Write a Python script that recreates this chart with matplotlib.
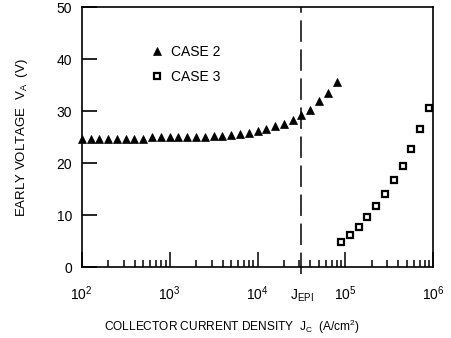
import matplotlib
matplotlib.use("Agg")
import matplotlib.pyplot as plt

plt.rcParams['font.family'] = ['Liberation Sans', 'DejaVu Sans']
plt.rcParams['mathtext.fontset'] = 'custom'
plt.rcParams['mathtext.rm'] = 'Liberation Sans'
plt.rcParams['mathtext.it'] = 'Liberation Sans'
plt.rcParams['mathtext.bf'] = 'Liberation Sans:bold'

# ---- data ----
case2_jc = [1.00e2, 1.26e2, 1.58e2, 2.00e2, 2.51e2, 3.16e2, 3.98e2, 5.01e2, 6.31e2, 7.94e2,
            1.00e3, 1.26e3, 1.58e3, 2.00e3, 2.51e3, 3.16e3, 3.98e3, 5.01e3, 6.31e3, 7.94e3,
            1.00e4, 1.26e4, 1.58e4, 2.00e4, 2.51e4, 3.16e4, 3.98e4, 5.01e4, 6.31e4, 7.94e4]
case2_va = [24.7, 24.7, 24.7, 24.7, 24.7, 24.7, 24.7, 24.7, 25.0, 25.0,
            25.0, 25.0, 25.0, 25.1, 25.1, 25.2, 25.3, 25.35, 25.6, 25.85,
            26.2, 26.65, 27.1, 27.6, 28.4, 29.3, 30.3, 31.9, 33.5, 35.6]
case3_jc = [8.9e4, 1.12e5, 1.41e5, 1.78e5, 2.24e5, 2.82e5, 3.55e5, 4.47e5, 5.62e5, 7.08e5, 8.91e5]
case3_va = [4.8, 6.15, 7.8, 9.6, 11.8, 14.1, 16.7, 19.5, 22.8, 26.5, 30.6]
j_epi = 3.16e4
x_ticks = [1e2, 1e3, 1e4, 1e5, 1e6]
x_ticklabels = [r'$10^{2}$', r'$10^{3}$', r'$10^{4}$', r'$10^{5}$', r'$10^{6}$']
y_ticks = [0, 10, 20, 30, 40, 50]

fig = plt.figure(figsize=(4.52, 3.38), dpi=100)
ax = fig.add_axes([0.1808, 0.2092, 0.9586 - 0.1808, 0.9784 - 0.2092])

ax.plot(case2_jc, case2_va, linestyle='none', marker='^', markersize=5.5,
        color='black', markeredgewidth=0.5, label='CASE 2', clip_on=False)
ax.plot(case3_jc, case3_va, linestyle='none', marker='s', markersize=5,
        markerfacecolor='white', markeredgecolor='black', markeredgewidth=1.6,
        label='CASE 3', clip_on=False)

ax.plot([j_epi, j_epi], [-1.3, 50], color='black', lw=1.1, dashes=(14, 5),
        clip_on=False)

ax.set_xscale('log')
ax.set_xlim(1e2, 1e6)
ax.set_ylim(0, 50)
ax.set_xticks(x_ticks)
ax.set_xticklabels(x_ticklabels)
ax.set_yticks(y_ticks)

for s in ax.spines.values():
    s.set_linewidth(1.2)

ax.tick_params(axis='x', which='major', direction='in', length=11, width=1.1,
               labelsize=10, pad=12, top=False)
ax.tick_params(axis='x', which='minor', direction='in', length=5, width=1.1, top=False)
ax.tick_params(axis='y', which='major', direction='in', length=11, width=1.2,
               labelsize=10, pad=7, right=False)
ax.tick_params(axis='y', which='minor', left=False, right=False)

ax.text(j_epi, -4.0, r'$\mathrm{J}_{\mathrm{EPI}}$', ha='center', va='top', fontsize=10)

ax.set_ylabel(r'EARLY VOLTAGE  $\mathrm{V}_{\mathrm{A}}$  (V)', fontsize=9.5, labelpad=19)
fig.text(0.513, 0.032, r'COLLECTOR CURRENT DENSITY  $\mathrm{J}_{\mathrm{C}}$  (A/cm$^{2}$)',
         ha='center', va='center', fontsize=8.6)

ax.legend(loc='upper left', bbox_to_anchor=(0.176, 0.876), frameon=False,
          handletextpad=0.4, labelspacing=0.75, handlelength=1.2, fontsize=10,
          borderaxespad=0)

fig.savefig('out.png', dpi=100)
